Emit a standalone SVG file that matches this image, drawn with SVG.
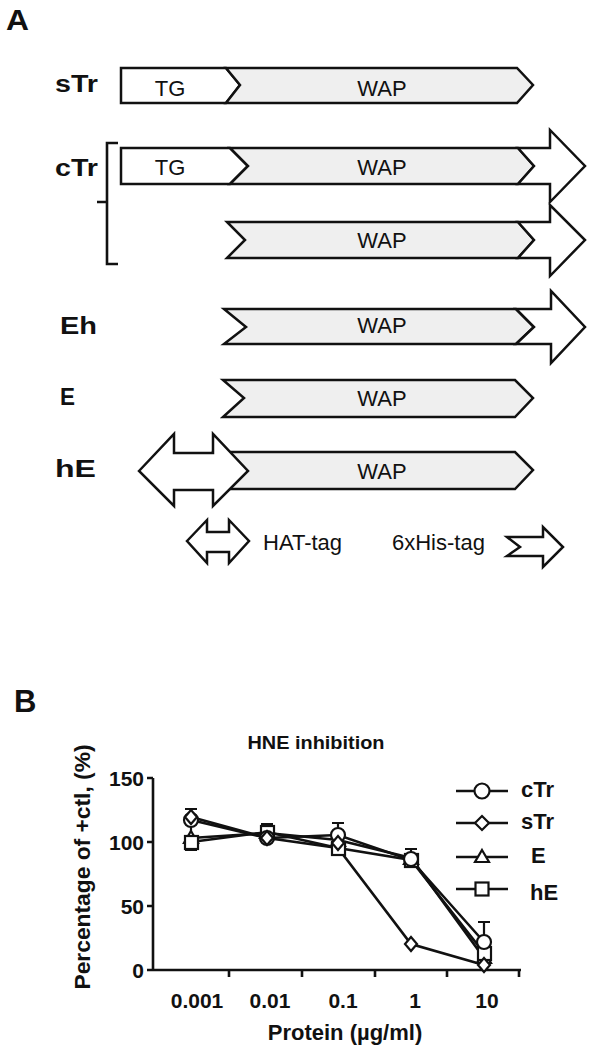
<svg xmlns="http://www.w3.org/2000/svg" width="593" height="1055" viewBox="0 0 593 1055">
<style>
.bg{fill:#ffffff}
.ol{stroke:#111;stroke-width:2.5;stroke-linejoin:miter;stroke-miterlimit:10}
.g{fill:#efefef}
.w{fill:#ffffff}
.t{font-family:"Liberation Sans",Arial,sans-serif;font-size:22px;fill:#111}
.b{font-family:"Liberation Sans",Arial,sans-serif;font-weight:bold;fill:#111}
.ax{stroke:#111;stroke-width:2.6;fill:none}
.ln{stroke:#111;stroke-width:2.6;fill:none}
.sym{fill:#fff;stroke:#111;stroke-width:2.2}
.eb{stroke:#111;stroke-width:2.2;fill:none}
</style>
<rect class="bg" x="0" y="0" width="593" height="1055"/>

<text class="b" x="6" y="30" font-size="29" textLength="23" lengthAdjust="spacingAndGlyphs">A</text>

<g id="sTr">
<text class="b" x="55" y="92" font-size="23" textLength="43" lengthAdjust="spacingAndGlyphs">sTr</text>
<polygon class="ol w" points="121,68 226,68 240,85 226,103 121,103"/>
<polygon class="ol g" points="226,68 517,68 533,85 517,103 226,103 240,85"/>
<text class="t" x="170" y="96" text-anchor="middle">TG</text>
<text class="t" x="382" y="96" text-anchor="middle">WAP</text>
</g>

<g id="cTr">
<text class="b" x="55" y="176" font-size="23" textLength="43" lengthAdjust="spacingAndGlyphs">cTr</text>
<path class="ax" d="M118,143 H107 V264 H118 M107,202 H97" stroke-width="2"/>
<polygon class="ol w" points="121,148 230,148 248,166 230,184 121,184"/>
<polygon class="ol g" points="230,148 518,148 534,166 518,184 230,184 248,166"/>
<polygon class="ol w" points="518,148 550,148 550,130 585,166 550,202 550,184 518,184 534,166"/>
<text class="t" x="170" y="175" text-anchor="middle">TG</text>
<text class="t" x="382" y="175" text-anchor="middle">WAP</text>
<polygon class="ol g" points="227,222 518,222 534,240 518,258 227,258 245,240"/>
<polygon class="ol w" points="518,222 550,222 550,205 585,240 550,276 550,258 518,258 534,240"/>
<text class="t" x="382" y="248" text-anchor="middle">WAP</text>
</g>

<g id="Eh">
<text class="b" x="60" y="334" font-size="23" textLength="37" lengthAdjust="spacingAndGlyphs">Eh</text>
<polygon class="ol g" points="224,309 516,309 534,327 516,344 224,344 246,327"/>
<polygon class="ol w" points="516,309 551,309 551,291 585,327 551,363 551,344 516,344 534,327"/>
<text class="t" x="382" y="333" text-anchor="middle">WAP</text>
</g>

<g id="E">
<text class="b" x="60" y="405" font-size="23" textLength="15" lengthAdjust="spacingAndGlyphs">E</text>
<polygon class="ol g" points="223,380 515,380 533,398 515,417 223,417 244,398"/>
<text class="t" x="382" y="406" text-anchor="middle">WAP</text>
</g>

<g id="hE">
<text class="b" x="55" y="477" font-size="23" textLength="41" lengthAdjust="spacingAndGlyphs">hE</text>
<polygon class="ol g" points="213,452 515,452 533,470 515,489 213,489"/>
<polygon class="ol w" points="139,471 174,434 174,453 213,453 213,434 248,471 213,506 213,490 174,490 174,506"/>
<text class="t" x="382" y="479" text-anchor="middle">WAP</text>
</g>

<g id="legendA">
<polygon class="ol w" points="187,541 207,520 207,532 229,532 229,520 249,541 229,563 229,552 207,552 207,563" stroke-width="2.2"/>
<text class="t" x="263" y="550">HAT-tag</text>
<text class="t" x="392" y="550">6xHis-tag</text>
<polygon class="ol w" points="507,537 543,537 543,527 563,547 543,567 543,556 507,556 520,547" stroke-width="2.2"/>
</g>

<text class="b" x="14" y="712" font-size="31">B</text>

<g id="chart">
<text class="b" x="316" y="749" font-size="19" text-anchor="middle" textLength="137" lengthAdjust="spacingAndGlyphs">HNE inhibition</text>
<text class="b" font-size="22" transform="translate(90,867) rotate(-90)" text-anchor="middle" textLength="245" lengthAdjust="spacingAndGlyphs">Percentage of +ctl, (%)</text>
<g id="axes">
<path class="ax" d="M153,778 V970 M147,778 H153 M147,842 H153 M147,906 H153 M147,970 H521 M229,970 V977 M302,970 V977 M375,970 V977 M447,970 V977 M519,970 V977"/>
<g class="b" font-size="21" text-anchor="end">
<text x="144" y="786">150</text>
<text x="144" y="850">100</text>
<text x="144" y="914">50</text>
<text x="144" y="978">0</text>
</g>
<g class="b" font-size="21" text-anchor="middle">
<text x="197" y="1008">0.001</text>
<text x="270" y="1008">0.01</text>
<text x="343" y="1008">0.1</text>
<text x="415" y="1008">1</text>
<text x="487" y="1008">10</text>
</g>
<text class="b" x="345" y="1040" font-size="22" text-anchor="middle">Protein (µg/ml)</text>
</g>
<g id="errorbars">
<path class="eb" d="M191,809 V850 M185,809 H197 M185,850 H197 M267,824 V842 M261,824 H273 M338,823 V845 M332,823 H344 M411,849 V862 M405,849 H417 M484,922 V960 M478,922 H490"/>
</g>
<g id="series">
<polyline class="ln" points="191,820 267,838 338,835 411,860 484,942"/>
<polyline class="ln" points="191,817 267,838 338,848 411,944 484,965"/>
<polyline class="ln" points="191,838 267,833 338,840 411,858 484,958"/>
<polyline class="ln" points="191,842 267,832 338,848 411,860 484,953"/>
<g id="sym-E">
<polygon class="sym" points="191,831 198,843 184,843"/>
<polygon class="sym" points="267,826 274,838 260,838"/>
<polygon class="sym" points="338,834 345,846 331,846"/>
<polygon class="sym" points="411,852 418,864 404,864"/>
<polygon class="sym" points="484,951 491,963 477,963"/>
</g>
<g id="sym-hE">
<rect class="sym" x="185" y="836" width="13" height="13"/>
<rect class="sym" x="261" y="826" width="13" height="13"/>
<rect class="sym" x="332" y="842" width="13" height="13"/>
<rect class="sym" x="405" y="854" width="13" height="13"/>
<rect class="sym" x="478" y="947" width="13" height="13"/>
</g>
<g id="sym-cTr">
<circle class="sym" cx="191" cy="820" r="7"/>
<circle class="sym" cx="267" cy="838" r="7"/>
<circle class="sym" cx="338" cy="835" r="7"/>
<circle class="sym" cx="411" cy="859" r="7"/>
<circle class="sym" cx="484" cy="942" r="7"/>
</g>
<g id="sym-sTr">
<polygon class="sym" points="191,810 197,817 191,824 185,817"/>
<polygon class="sym" points="267,831 273,838 267,845 261,838"/>
<polygon class="sym" points="338,836 344,843 338,850 332,843"/>
<polygon class="sym" points="411,937 417,944 411,951 405,944"/>
<polygon class="sym" points="484,958 490,965 484,972 478,965"/>
</g>
</g>
<g id="legendB">
<path class="ln" d="M456,791 H508 M456,823 H508 M456,857 H508 M456,889 H508"/>
<circle class="sym" cx="482" cy="791" r="7.5"/>
<polygon class="sym" points="482,816 489,823 482,830 475,823"/>
<polygon class="sym" points="482,850 489,862 475,862"/>
<rect class="sym" x="475.5" y="882.5" width="13" height="13"/>
<g class="b" font-size="22">
<text x="521" y="797">cTr</text>
<text x="521" y="829">sTr</text>
<text x="531" y="863">E</text>
<text x="530" y="900">hE</text>
</g>
</g>
</g>
</svg>
